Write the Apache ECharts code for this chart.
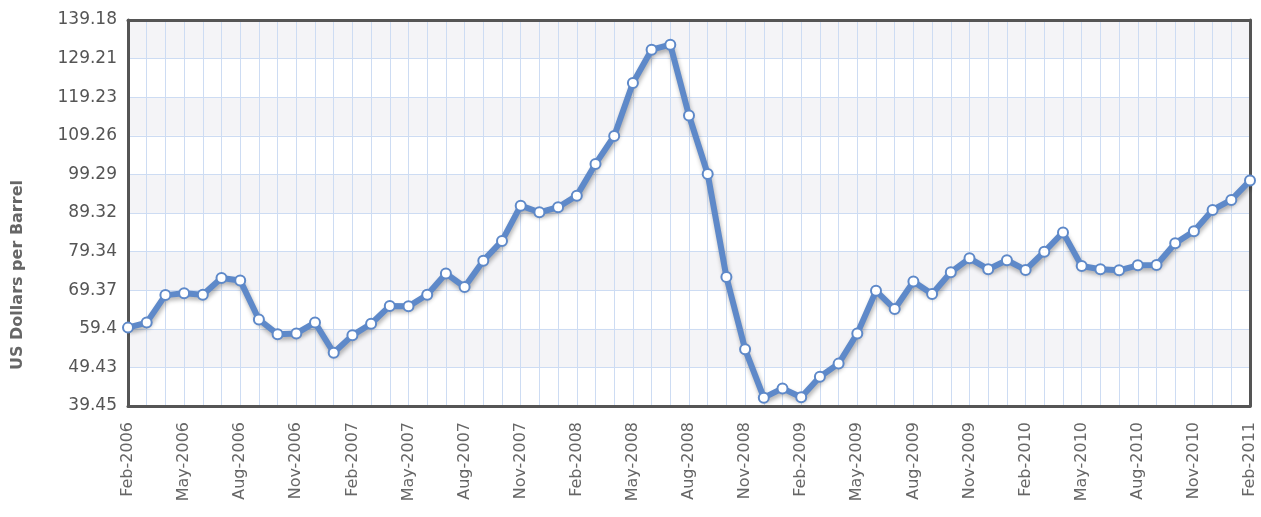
<!DOCTYPE html>
<html><head><meta charset="utf-8">
<script src="https://cdn.jsdelivr.net/npm/echarts@6/dist/echarts.min.js"></script>
<style>html,body{margin:0;padding:0;background:#fff}#c{width:1261px;height:517px}</style>
</head><body><div id="c"></div>
<script>
const months = [
 "Feb-2006","Mar-2006","Apr-2006","May-2006","Jun-2006","Jul-2006","Aug-2006","Sep-2006","Oct-2006","Nov-2006","Dec-2006",
 "Jan-2007","Feb-2007","Mar-2007","Apr-2007","May-2007","Jun-2007","Jul-2007","Aug-2007","Sep-2007","Oct-2007","Nov-2007","Dec-2007",
 "Jan-2008","Feb-2008","Mar-2008","Apr-2008","May-2008","Jun-2008","Jul-2008","Aug-2008","Sep-2008","Oct-2008","Nov-2008","Dec-2008",
 "Jan-2009","Feb-2009","Mar-2009","Apr-2009","May-2009","Jun-2009","Jul-2009","Aug-2009","Sep-2009","Oct-2009","Nov-2009","Dec-2009",
 "Jan-2010","Feb-2010","Mar-2010","Apr-2010","May-2010","Jun-2010","Jul-2010","Aug-2010","Sep-2010","Oct-2010","Nov-2010","Dec-2010",
 "Jan-2011","Feb-2011"
];
const prices = [
 59.7, 61.0, 68.1, 68.6, 68.2, 72.5, 71.9, 61.8, 58.0, 58.2, 61.0,
 53.2, 57.7, 60.7, 65.3, 65.2, 68.2, 73.7, 70.2, 77.0, 82.1, 91.2, 89.5,
 90.8, 93.8, 102.0, 109.2, 122.9, 131.5, 132.8, 114.5, 99.4, 72.8, 54.1, 41.6,
 44.0, 41.7, 47.0, 50.4, 58.2, 69.2, 64.5, 71.6, 68.4, 74.0, 77.6, 74.8,
 77.1, 74.6, 79.3, 84.3, 75.6, 74.8, 74.5, 75.8, 75.9, 81.5, 84.6, 90.1,
 92.7, 97.7
];
const yTicks = [39.45, 49.43, 59.4, 69.37, 79.34, 89.32, 99.29, 109.26, 119.23, 129.21, 139.18];
const yName = "US Dollars per Barrel";

const frame = {show: true, lineStyle: {color: '#555', width: 3}};
const chart = echarts.init(document.getElementById('c'), null, {renderer: 'canvas'});
chart.setOption({
  animation: false,
  grid: {left: 128, right: 11, top: 20, bottom: 111},
  graphic: [{
    type: 'text', x: 18, y: 275, rotation: Math.PI / 2,
    style: {text: yName, font: 'bold 16px "DejaVu Sans"', fill: '#666', align: 'center', verticalAlign: 'middle'}
  }],
  xAxis: [{
    type: 'category', data: months, boundaryGap: false,
    axisLine: frame, axisTick: {show: false},
    axisLabel: {interval: 2, rotate: 90, margin: 16, color: '#666', fontSize: 16, fontFamily: 'DejaVu Sans'},
    splitLine: {show: true, interval: 0, lineStyle: {color: '#cddcf3', width: 1}}
  }, {
    type: 'category', data: months, boundaryGap: false, position: 'top',
    axisLine: frame, axisTick: {show: false}, axisLabel: {show: false}, splitLine: {show: false}
  }],
  yAxis: [{
    type: 'value', min: yTicks[0], max: yTicks[yTicks.length - 1],
    axisLine: frame,
    axisTick: {show: false, customValues: yTicks},
    axisLabel: {customValues: yTicks, margin: 11, color: '#555', fontSize: 17, fontFamily: 'DejaVu Sans',
      formatter: v => String(v)},
    splitLine: {show: true, lineStyle: {color: '#cddcf3', width: 1}},
    splitArea: {show: true, areaStyle: {color: ['#ffffff', '#f4f4f7']}}
  }, {
    type: 'value', min: yTicks[0], max: yTicks[yTicks.length - 1], position: 'right',
    axisLine: frame, axisTick: {show: false}, axisLabel: {show: false}, splitLine: {show: false}, splitArea: {show: false}
  }],
  series: [{
    type: 'line', data: prices, clip: false, z: 5,
    symbol: 'circle', symbolSize: 10,
    itemStyle: {color: '#ffffff', borderColor: '#5e89c9', borderWidth: 2},
    lineStyle: {color: '#5e89c9', width: 6, shadowColor: 'rgba(0,0,0,0.3)', shadowBlur: 4, shadowOffsetX: 1, shadowOffsetY: 3}
  }]
});
</script>
</body></html>
